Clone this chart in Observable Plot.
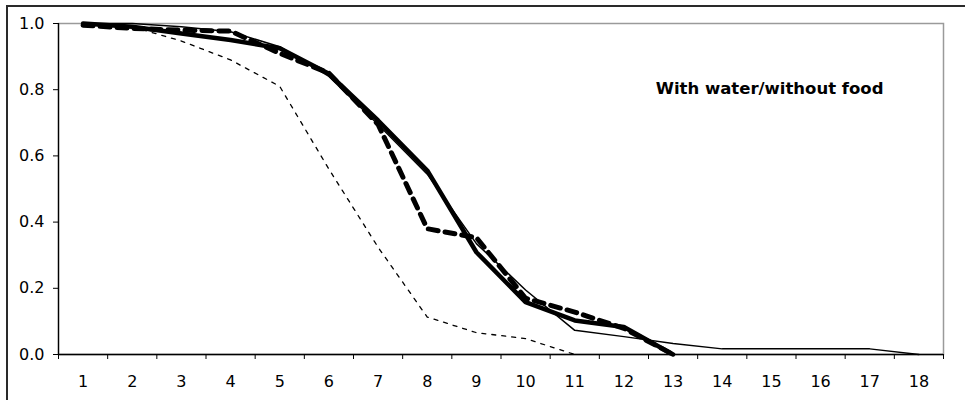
<!DOCTYPE html>
<html>
<head>
<meta charset="utf-8">
<script src="https://cdn.jsdelivr.net/npm/d3@7"></script>
<script src="https://cdn.jsdelivr.net/npm/@observablehq/plot@0.6"></script>
<style>
  html, body { margin: 0; padding: 0; background: #fff; overflow: hidden; }
  #wrap { position: relative; width: 965px; height: 400px; }
  #outer { position: absolute; left: 6px; top: 5px; width: 2000px; height: 2000px; border: 2px solid #2a2a2a; box-sizing: border-box; pointer-events: none; }
  #chart { position: absolute; left: 0; top: 0; }
</style>
</head>
<body>
<div id="wrap"><div id="chart"></div><div id="outer"></div></div>
<script>
// Days (category axis)
const days = [1, 2, 3, 4, 5, 6, 7, 8, 9, 10, 11, 12, 13, 14, 15, 16, 17, 18];
// Y tick values
const yTicks = [0, 0.2, 0.4, 0.6, 0.8, 1.0];
// Annotation
const annotation = "With water/without food";

// Series (proportion surviving by day)
const thickSolid  = [1.0, 0.99, 0.97, 0.95, 0.925, 0.848, 0.707, 0.556, 0.309, 0.158, 0.103, 0.083, 0.0];
const thinSolid   = [1.0, 1.0, 0.99, 0.975, 0.93, 0.84, 0.695, 0.545, 0.335, 0.195, 0.073, 0.054, 0.033, 0.017, 0.017, 0.017, 0.017, 0.0];
const thickDashed = [0.995, 0.985, 0.98, 0.977, 0.91, 0.85, 0.695, 0.38, 0.353, 0.17, 0.128, 0.079, 0.0];
const thinDotted  = [1.0, 0.99, 0.947, 0.89, 0.81, 0.56, 0.324, 0.113, 0.066, 0.048, 0.0];

const toRows = arr => arr.map((v, i) => ({day: days[i], value: v}));
const xDomain = [days[0] - 0.5, days[days.length - 1] + 0.5];
const boundaries = days.map(d => d - 0.5).concat([xDomain[1]]);

const chart = Plot.plot({
  width: 965,
  height: 400,
  marginLeft: 58,
  marginRight: 22,
  marginTop: 23,
  marginBottom: 46,
  style: {fontFamily: "DejaVu Sans", fontSize: "16px", background: "transparent", color: "#000"},
  x: {type: "linear", domain: xDomain},
  y: {domain: [0, 1]},
  marks: [
    Plot.frame({stroke: "#9a9a9a", strokeWidth: 1.5}),
    Plot.ruleX([xDomain[0]], {stroke: "#000", strokeWidth: 1.3}),
    Plot.ruleY([0], {stroke: "#000", strokeWidth: 1.3}),
    Plot.axisY({ticks: yTicks, tickFormat: d => d.toFixed(1), tickSize: 5, tickPadding: 9, label: null, stroke: "#000"}),
    Plot.axisX({ticks: days, tickFormat: d => String(d), tickSize: 0, tickPadding: 21, label: null}),
    Plot.axisX({ticks: boundaries, tickFormat: () => "", tickSize: 5, label: null, stroke: "#000"}),
    Plot.line(toRows(thinDotted), {x: "day", y: "value", stroke: "#000", strokeWidth: 1.3, strokeDasharray: "4,6"}),
    Plot.line(toRows(thickDashed), {x: "day", y: "value", stroke: "#000", strokeWidth: 5, strokeDasharray: "10,7"}),
    Plot.line(toRows(thickSolid), {x: "day", y: "value", stroke: "#000", strokeWidth: 4.5, strokeLinejoin: "round"}),
    Plot.line(toRows(thinSolid), {x: "day", y: "value", stroke: "#000", strokeWidth: 1.5}),
    Plot.text([annotation], {text: d => d, frameAnchor: "top-right", textAnchor: "end", lineAnchor: "top", dx: -60, dy: 59, fontWeight: "bold", fontSize: 16.5})
  ]
});
document.getElementById("chart").appendChild(chart);
</script>
</body>
</html>
